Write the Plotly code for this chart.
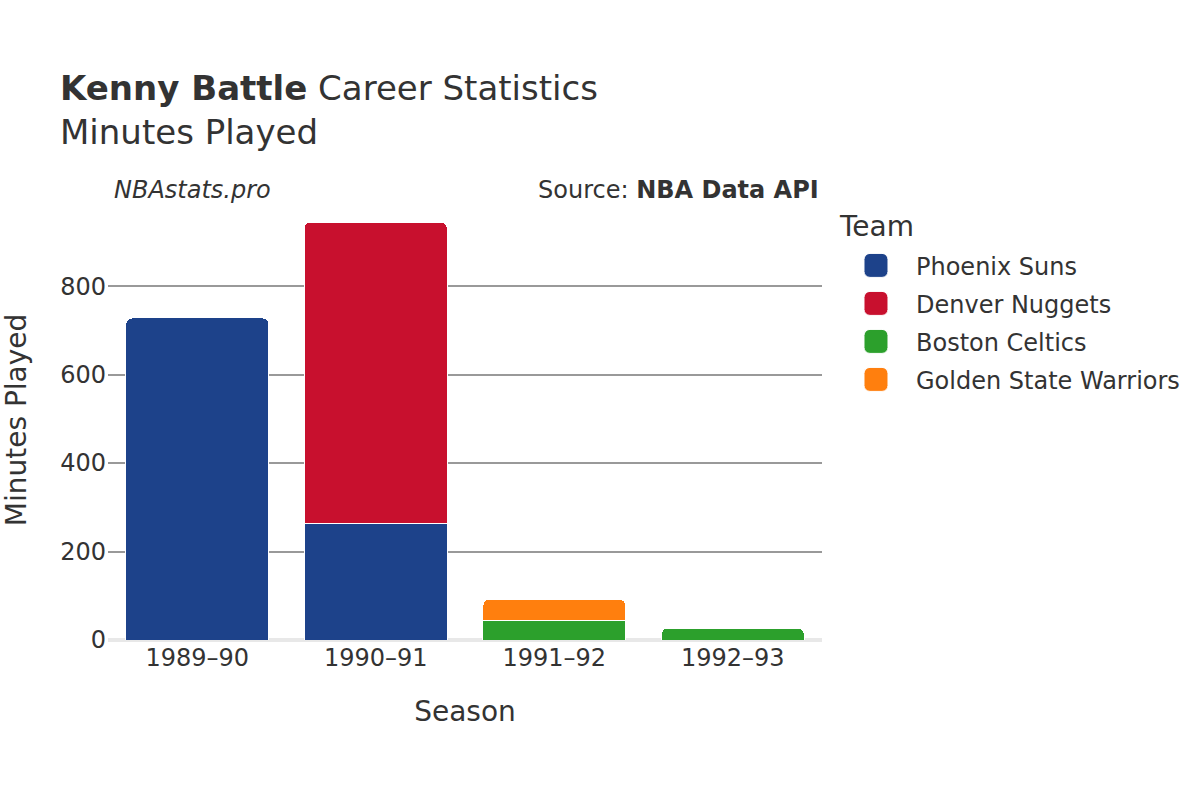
import plotly.graph_objects as go

seasons = ["1989–90", "1990–91", "1991–92", "1992–93"]
teams = ["Phoenix Suns", "Denver Nuggets", "Boston Celtics", "Golden State Warriors"]
colors = ["#1d428a", "#c8102e", "#2ca02c", "#ff7f0e"]
phoenix = [728, 263, None, None]
denver = [None, 682, None, None]
boston = [None, None, 45, 27]
gsw = [None, None, 47, None]
values = [phoenix, denver, boston, gsw]

fig = go.Figure()
for name, col, vals in zip(teams, colors, values):
    fig.add_trace(go.Bar(
        x=seasons, y=vals, name=name,
        marker=dict(color=col, line=dict(color="white", width=0.5), cornerradius=3),
    ))

# Figure laid out at 600x400 and displayed at 2x (1200x800)
fig.update_layout(
    barmode="stack",
    width=600, height=400,
    font=dict(family="DejaVu Sans", color="#333333", size=12),
    paper_bgcolor="white", plot_bgcolor="white",
    margin=dict(l=54, r=189, t=100, b=80, autoexpand=False),
    title=dict(
        text="<b>Kenny Battle</b> Career Statistics<br>Minutes Played",
        x=0.05, xanchor="left", xref="container",
        y=0.875, yanchor="top", yref="container",
        font=dict(size=17, color="#333333"),
    ),
    bargap=0.2,
    xaxis=dict(
        title=dict(text="Season", font=dict(size=14)),
        tickfont=dict(size=12),
        showline=False,
    ),
    yaxis=dict(
        title=dict(text="Minutes Played", font=dict(size=14)),
        tickfont=dict(size=12),
        gridcolor="#999999", gridwidth=0.5,
        zeroline=True, zerolinecolor="#e8e8e8", zerolinewidth=2,
        tickvals=[0, 200, 400, 600, 800],
    ),
    legend=dict(
        title=dict(text="Team", font=dict(size=14)),
        font=dict(size=12),
        x=1.0196, xanchor="left", y=1.0, yanchor="top",
        traceorder="normal",
    ),
    annotations=[
        dict(text="<i>NBAstats.pro</i>", x=0.004, y=1.023, xref="paper", yref="paper",
             xanchor="left", yanchor="middle", showarrow=False, font=dict(size=12, color="#333333")),
        dict(text="Source: <b>NBA Data API</b>", x=0.999, y=1.023, xref="paper", yref="paper",
             xanchor="right", yanchor="middle", showarrow=False, font=dict(size=12, color="#333333")),
    ],
)

post = "document.body.style.margin='0';document.body.style.zoom='2';"
fig.write_html("out.html", post_script=post, config={"displayModeBar": False})
